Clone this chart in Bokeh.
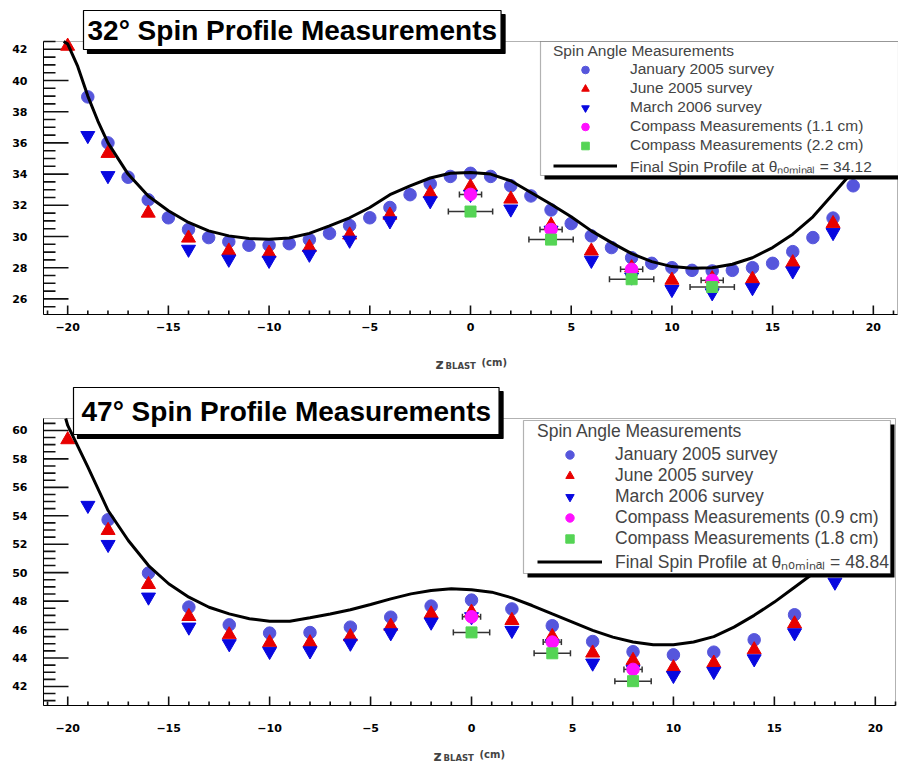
import math
from bokeh.plotting import figure
from bokeh.models import (ColumnDataSource, Legend, LegendItem, Label, BoxAnnotation,
                          Whisker, TeeHead, SingleIntervalTicker, Range1d, LinearAxis)
from bokeh.layouts import column
from bokeh.embed import file_html
from bokeh.resources import INLINE

# ---------------- 32 degree panel data ----------------
jan32_x = [-19, -18, -17, -16, -15, -14, -13, -12, -11, -10, -9, -8, -7, -6, -5, -4, -3, -2, -1,
           0, 1, 2, 3, 4, 5, 6, 7, 8, 9, 10, 11, 12, 13, 14, 15, 16, 17, 18, 19]
jan32_y = [38.95, 36.0, 33.8, 32.35, 31.2, 30.45, 29.93, 29.67, 29.44, 29.44, 29.54, 29.8, 30.2,
           30.7, 31.2, 31.86, 32.68, 33.37, 33.85, 34.05, 33.85, 33.25, 32.6, 31.7, 30.83, 30.04,
           29.29, 28.64, 28.28, 28.0, 27.83, 27.79, 27.83, 28.0, 28.28, 29.03, 29.93, 31.18, 33.25]
jun32_x = [-20, -18, -16, -14, -12, -10, -8, -6, -4, -2, 0, 2, 4, 6, 8, 10, 12, 14, 16, 18]
jun32_y = [42.2, 35.33, 31.5, 29.9, 29.07, 28.93, 29.3, 30.1, 31.37, 32.76, 33.19, 32.4, 30.73,
           29.07, 28.0, 27.2, 27.3, 27.26, 28.32, 30.83]
mar32_x = [-19, -18, -14, -12, -10, -8, -6, -4, -2, 0, 2, 4, 6, 8, 10, 12, 14, 16, 18]
mar32_y = [36.47, 33.9, 29.18, 28.54, 28.47, 28.86, 29.76, 31.0, 32.29, 32.7, 31.76, 30.4, 28.47,
           27.4, 26.6, 26.39, 26.72, 27.79, 30.25]
cmpA32_x = [0, 4, 8, 12]
cmpA32_y = [32.7, 30.45, 27.9, 27.19]
cmpA32_err = 0.55
cmpB32_x = [0, 4, 8, 12]
cmpB32_y = [31.6, 29.8, 27.26, 26.76]
cmpB32_err = 1.1
curve32_x = [-20.2, -20, -19.5, -19, -18.5, -18, -17, -16, -15, -14, -13, -12, -11, -10, -9, -8, -7,
             -6, -5, -4, -3, -2, -1, 0, 1, 2, 3, 4, 5, 6, 7, 8, 9, 10, 11, 12, 13, 14, 15, 16, 17,
             18, 19, 20]
curve32_y = [42.5, 42.35, 40.9, 39.0, 37.4, 36.0, 34.0, 32.6, 31.65, 30.9, 30.36, 30.04, 29.87,
             29.83, 29.9, 30.2, 30.68, 31.2, 31.86, 32.68, 33.25, 33.75, 34.05, 34.11, 34.0, 33.57,
             32.82, 32.07, 31.26, 30.36, 29.61, 28.9, 28.39, 28.07, 27.96, 28.0, 28.22, 28.64,
             29.29, 30.15, 31.26, 32.72, 34.2, 36.0]

# ---------------- 47 degree panel data ----------------
jan47_x = [-18, -16, -14, -12, -10, -8, -6, -4, -2, 0, 2, 4, 6, 8, 10, 12, 14, 16, 18]
jan47_y = [53.72, 49.97, 47.58, 46.33, 45.75, 45.79, 46.17, 46.87, 47.65, 48.07, 47.45, 46.27,
           45.16, 44.44, 44.22, 44.41, 45.28, 47.04, 50.2]
jun47_x = [-20, -18, -16, -14, -12, -10, -8, -6, -4, -2, 0, 2, 4, 6, 8, 10, 12, 14, 16]
jun47_y = [59.35, 52.97, 49.17, 46.92, 45.63, 45.07, 45.07, 45.5, 46.24, 47.1, 47.22, 46.64,
           45.51, 44.35, 43.83, 43.31, 43.64, 44.58, 46.4]
mar47_x = [-19, -18, -16, -14, -12, -10, -8, -6, -4, -2, 0, 2, 4, 6, 8, 10, 12, 14, 16, 18]
mar47_y = [54.73, 51.98, 48.28, 46.17, 45.0, 44.46, 44.5, 45.04, 45.77, 46.52, 46.9, 45.94, 45.0,
           43.64, 43.2, 42.77, 43.05, 43.94, 45.77, 49.33]
cmpA47_x = [0, 4, 8]
cmpA47_y = [46.9, 45.12, 43.2]
cmpA47_err = 0.45
cmpB47_x = [0, 4, 8]
cmpB47_y = [45.8, 44.33, 42.37]
cmpB47_err = 0.9
curve47_x = [-20.1, -20, -19, -18, -17, -16, -15, -14, -13, -12, -11, -10, -9, -8, -7, -6, -5, -4,
             -3, -2, -1, 0, 1, 2, 3, 4, 5, 6, 7, 8, 9, 10, 11, 12, 13, 14, 15, 16, 17, 18, 19]
curve47_y = [60.84, 60.35, 57.42, 54.37, 52.26, 50.5, 49.22, 48.28, 47.57, 47.1, 46.76, 46.59,
             46.59, 46.83, 47.1, 47.39, 47.76, 48.16, 48.51, 48.75, 48.87, 48.8, 48.63, 48.23,
             47.69, 47.1, 46.52, 45.94, 45.47, 45.12, 44.93, 44.93, 45.12, 45.5, 46.17, 47.0,
             47.93, 48.98, 50.03, 51.5, 53.5]

# ---------------- tick positions ----------------
x_major_ticks = [-20, -15, -10, -5, 0, 5, 10, 15, 20]
x_minor_ticks = [v for v in range(-21, 22) if v % 5 != 0]
y32_major_ticks = [26, 28, 30, 32, 34, 36, 38, 40, 42]
y32_minor_ticks = [v / 2 for v in range(51, 86) if v % 4 != 0]
y47_major_ticks = [42, 44, 46, 48, 50, 52, 54, 56, 58, 60]
y47_minor_ticks = [v / 2 for v in range(82, 122) if v % 4 != 0]

C_JAN = "#5656dc"
C_JUN = "#e80000"
C_MAR = "#0808e0"
C_MAG = "#ff10ff"
C_GRN = "#55d455"
C_TICK = "#111111"

SANS = "Liberation Sans"
TICKF = "DejaVu Sans"
W = 898


def make_panel(cfg):
    H = cfg["height"]
    bl, br, bt, bb = 43, cfg["br"], cfg["bt"], cfg["bb"]   # plot-area margins in px
    xlo, xhi = cfg["xr"]
    ylo, yhi = cfg["yr"]
    sx = (W - bl - br) / (xhi - xlo)
    sy = (H - bt - bb) / (yhi - ylo)
    p = figure(width=W, height=H, output_backend="svg", toolbar_location=None,
               x_range=Range1d(xlo - bl / sx, xhi + br / sx),
               y_range=Range1d(ylo - bb / sy, yhi + bt / sy),
               x_axis_type=None, y_axis_type=None,
               min_border_left=0, min_border_right=0, min_border_top=0, min_border_bottom=0)
    p.background_fill_color = "white"
    p.border_fill_color = "white"
    p.outline_line_alpha = 0
    p.xgrid.visible = False
    p.ygrid.visible = False

    # frame of the plot area
    p.add_layout(BoxAnnotation(left=xlo, right=xhi, bottom=ylo, top=yhi, fill_alpha=0,
                               line_color="black", line_width=1, level="underlay"))

    xaxis = LinearAxis(fixed_location=ylo, bounds=(xlo, xhi),
                       ticker=SingleIntervalTicker(interval=5, num_minor_ticks=5))
    yaxis = LinearAxis(fixed_location=xlo, bounds=(ylo, yhi),
                       ticker=SingleIntervalTicker(interval=2, num_minor_ticks=4))
    for ax in (xaxis, yaxis):
        ax.axis_line_color = "black"
        ax.major_tick_in = 0
        ax.major_tick_out = 0
        ax.minor_tick_in = 0
        ax.minor_tick_out = 0
        ax.minor_tick_line_alpha = 0
        ax.major_tick_line_alpha = 0
        ax.major_label_text_font = TICKF
        ax.major_label_text_font_style = "bold"
        ax.major_label_text_font_size = "11px"
        ax.major_label_text_color = "black"
    xaxis.major_label_standoff = cfg["xstand"]
    yaxis.major_label_standoff = 16
    p.add_layout(xaxis, "below")
    p.add_layout(yaxis, "left")

    # inward ROOT-style ticks drawn as dash markers anchored on the frame edges
    ymaj, ymin = cfg["ymaj"], cfg["ymin"]
    xmin = [v for v in x_minor_ticks if xlo <= v <= xhi]
    for vals, length in ((ymaj, 25), (ymin, 12)):
        p.scatter(x=[xlo + 0.5 * length / sx] * len(vals), y=vals, marker="dash",
                  size=length, angle=0, line_color=C_TICK, line_width=1.6)
    for vals, length in ((x_major_ticks, 9), (xmin, 4)):
        p.scatter(x=vals, y=[ylo + 0.5 * length / sy] * len(vals), marker="dash",
                  size=length, angle=math.pi / 2, line_color=C_TICK, line_width=1.6)

    r_jan = p.scatter(cfg["jan_x"], cfg["jan_y"], marker="circle", size=12.5, color=C_JAN)
    r_jun = p.scatter(cfg["jun_x"], cfg["jun_y"], marker="triangle", size=14, color=C_JUN)
    r_mar = p.scatter(cfg["mar_x"], cfg["mar_y"], marker="inverted_triangle", size=14,
                      color=C_MAR)

    srcA = ColumnDataSource(dict(x=cfg["a_x"], y=cfg["a_y"],
                                 lo=[v - cfg["a_err"] for v in cfg["a_x"]],
                                 hi=[v + cfg["a_err"] for v in cfg["a_x"]]))
    srcB = ColumnDataSource(dict(x=cfg["b_x"], y=cfg["b_y"],
                                 lo=[v - cfg["b_err"] for v in cfg["b_x"]],
                                 hi=[v + cfg["b_err"] for v in cfg["b_x"]]))
    for src in (srcA, srcB):
        w = Whisker(source=src, base="y", lower="lo", upper="hi", dimension="width",
                    line_color="#333333", line_width=1.5,
                    upper_head=TeeHead(size=6, line_color="#333333", line_width=1.5),
                    lower_head=TeeHead(size=6, line_color="#333333", line_width=1.5))
        p.add_layout(w)
    r_a = p.scatter("x", "y", source=srcA, marker="circle", size=12.5, color=C_MAG)
    r_b = p.scatter("x", "y", source=srcB, marker="square", size=11, color=C_GRN)

    r_curve = p.line(cfg["c_x"], cfg["c_y"], line_color="black", line_width=3)

    # legend frame with shadow (screen units = canvas px, y upwards from bottom)
    L, R, T, B = cfg["lbox"]
    s = 4
    p.add_layout(BoxAnnotation(left=L + s, right=R + s, top=H - T - s, bottom=H - B - s,
                               left_units="screen", right_units="screen",
                               top_units="screen", bottom_units="screen",
                               fill_color="black", fill_alpha=1, line_alpha=0))
    p.add_layout(BoxAnnotation(left=L, right=R, top=H - T, bottom=H - B,
                               left_units="screen", right_units="screen",
                               top_units="screen", bottom_units="screen",
                               fill_color="white", fill_alpha=1, line_color="black",
                               line_width=1.2))

    items = [LegendItem(label="January 2005 survey", renderers=[r_jan]),
             LegendItem(label="June 2005 survey", renderers=[r_jun]),
             LegendItem(label="March 2006 survey", renderers=[r_mar]),
             LegendItem(label=cfg["a_label"], renderers=[r_a]),
             LegendItem(label=cfg["b_label"], renderers=[r_b]),
             LegendItem(label=cfg["c_label"], renderers=[r_curve])]
    gx, ly_bottom = cfg["lpos"]
    lg = Legend(items=items, location=(gx - 1, H - ly_bottom), margin=0, padding=1,
                glyph_width=cfg["gw"], glyph_height=cfg["rowh"], label_height=cfg["rowh"],
                label_standoff=13, spacing=0,
                title="Spin Angle Measurements", title_text_font=SANS,
                title_text_font_style="normal", title_text_font_size=cfg["lfs"],
                title_standoff=cfg["tstand"], label_text_font=SANS,
                label_text_font_size=cfg["lfs"],
                background_fill_alpha=0, border_line_alpha=0)
    p.add_layout(lg, "center")

    # title pave with shadow (x, y = top-left corner of the pave)
    tx, ty, pad = cfg["title_pos"]
    for dx, dy, col in ((4, -4, "black"), (0, 0, None)):
        p.add_layout(Label(x=tx + dx, y=H - ty + dy, x_units="screen",
                           y_units="screen", text=cfg["title"], text_font=SANS,
                           text_font_style="bold", text_font_size="28px",
                           text_color=col or "black", text_baseline="top", text_align="left",
                           padding=pad, background_fill_color=col or "white",
                           border_line_color="black", border_line_width=1.2))

    # axis title z_BLAST (cm)
    zx, zy = cfg["zlab"]
    p.add_layout(Label(x=zx, y=H - zy, x_units="screen", y_units="screen", text="z",
                       text_font=TICKF, text_font_style="bold", text_font_size="14px",
                       text_baseline="alphabetic"))
    p.add_layout(Label(x=zx + 10, y=H - zy - 2, x_units="screen", y_units="screen",
                       text="BLAST", text_font=TICKF, text_font_style="bold",
                       text_font_size="8.5px", text_baseline="alphabetic"))
    p.add_layout(Label(x=zx + 46, y=H - zy + 1, x_units="screen", y_units="screen",
                       text="(cm)", text_font=TICKF, text_font_style="bold",
                       text_font_size="10px", text_baseline="alphabetic"))
    return p


top_cfg = dict(height=380, br=1, bt=41, bb=66, xr=(-21.2, 21.2), yr=(25.0, 42.5), xstand=8,
               ymaj=y32_major_ticks, ymin=y32_minor_ticks,
               jan_x=jan32_x, jan_y=jan32_y, jun_x=jun32_x, jun_y=jun32_y,
               mar_x=mar32_x, mar_y=mar32_y,
               a_x=cmpA32_x, a_y=cmpA32_y, a_err=cmpA32_err,
               b_x=cmpB32_x, b_y=cmpB32_y, b_err=cmpB32_err,
               c_x=curve32_x, c_y=curve32_y,
               a_label="Compass Measurements (1.1 cm)", b_label="Compass Measurements (2.2 cm)",
               c_label="Final Spin Profile at \u03b8\u2099\u2092\u2098\u1d62\u2099\u2090\u2097 = 34.12",
               lbox=(540, 898, 41, 175), lpos=(553, 177.5), gw=64, rowh=19, tstand=0,
               lfs="15.5px",
               title="32\u00b0 Spin Profile Measurements", title_pos=(83, 10, 4),
               zlab=(435, 363))

bot_cfg = dict(height=383, br=3, bt=38, bb=58, xr=(-21.2, 21.0), yr=(40.66, 60.84), xstand=18,
               ymaj=y47_major_ticks, ymin=y47_minor_ticks,
               jan_x=jan47_x, jan_y=jan47_y, jun_x=jun47_x, jun_y=jun47_y,
               mar_x=mar47_x, mar_y=mar47_y,
               a_x=cmpA47_x, a_y=cmpA47_y, a_err=cmpA47_err,
               b_x=cmpB47_x, b_y=cmpB47_y, b_err=cmpB47_err,
               c_x=curve47_x, c_y=curve47_y,
               a_label="Compass Measurements (0.9 cm)", b_label="Compass Measurements (1.8 cm)",
               c_label="Final Spin Profile at \u03b8\u2099\u2092\u2098\u1d62\u2099\u2090\u2097 = 48.84",
               lbox=(523, 890, 40, 193), lpos=(537, 194.0), gw=65, rowh=21, tstand=2,
               lfs="17.5px",
               title="47\u00b0 Spin Profile Measurements", title_pos=(73, 7, 8),
               zlab=(433, 375))

p1 = make_panel(top_cfg)
p2 = make_panel(bot_cfg)
layout = column(p1, p2, spacing=0)
open("out.html", "w").write(file_html(layout, INLINE))
